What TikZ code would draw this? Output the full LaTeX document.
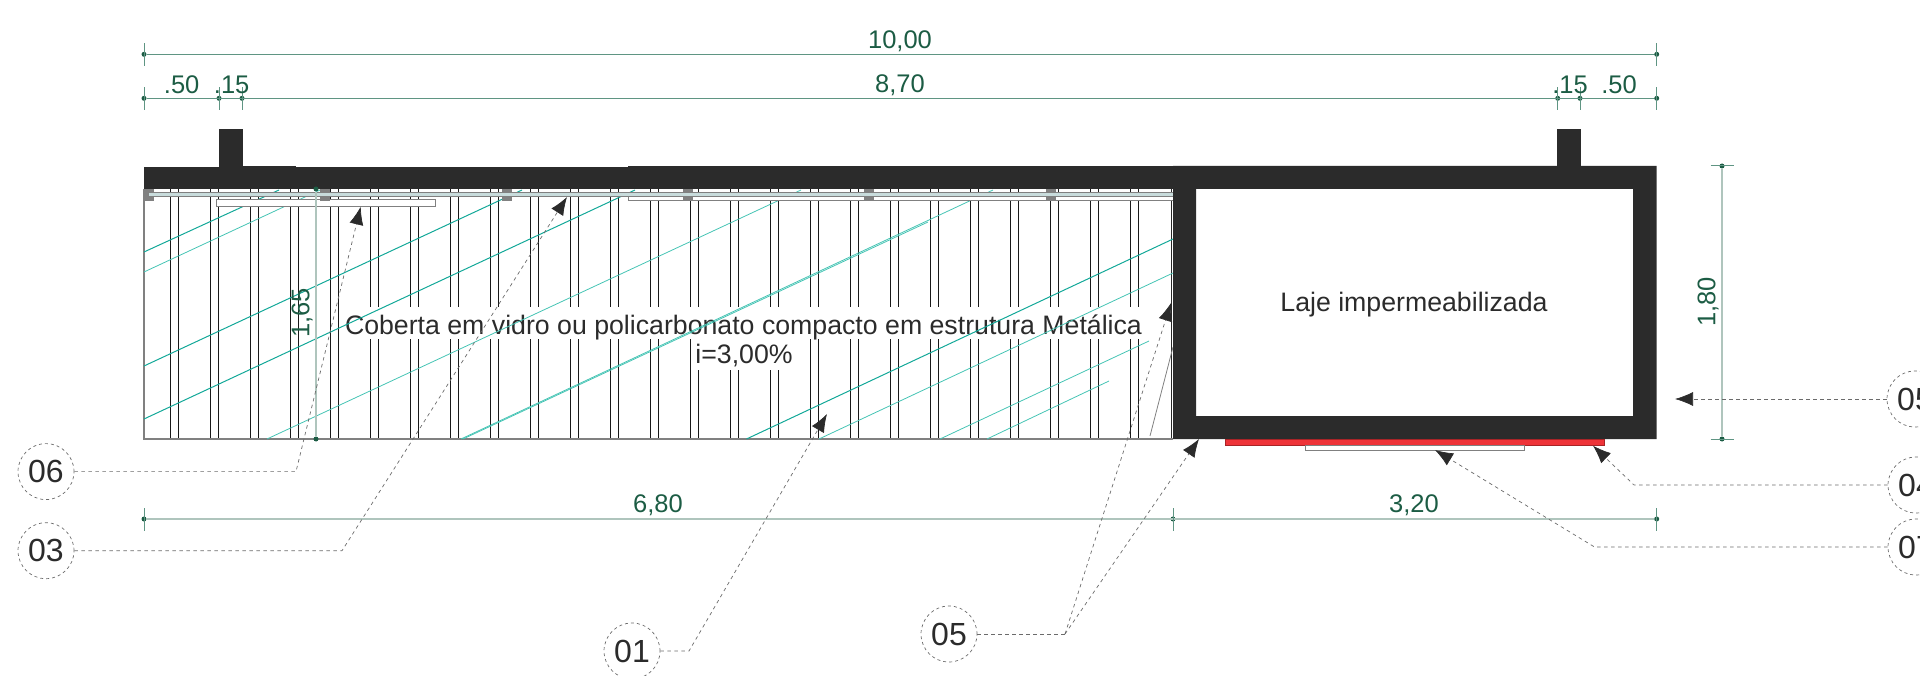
\documentclass[tikz,border=0pt]{standalone}
\usepackage{fontspec}
\setmainfont{Liberation Sans}
\usetikzlibrary{arrows.meta}
\usetikzlibrary{positioning}
\definecolor{wallgray}{HTML}{2B2B2B}
\definecolor{edgegray}{HTML}{808080}
\definecolor{dimtext}{HTML}{1C5C44}
\definecolor{dimthin}{HTML}{5F9583}
\definecolor{dimpale}{HTML}{AFC5BD}
\definecolor{glassblue}{HTML}{C8DCDC}
\definecolor{tealdark}{HTML}{12A898}
\definecolor{teallight}{HTML}{45C4B4}
\definecolor{sealred}{HTML}{EE3338}
\tikzset{
  dimdot/.style={circle,fill=dimtext,inner sep=0pt,minimum size=5pt},
  dimlabel/.style={text=dimtext,font=\fontsize{25.5}{25.5}\selectfont,inner sep=0pt},
  dimline/.style={draw=dimthin,line width=1.2pt},
  dimwide/.style={draw=dimpale,line width=2pt},
  tagnode/.style={circle,draw=wallgray!70,dash pattern=on 3pt off 3pt,line width=.7pt,minimum size=56pt,inner sep=0pt,
    font=\fontsize{32}{32}\selectfont,text=wallgray},
  leader/.style={draw=wallgray!70,dash pattern=on 3.5pt off 3.5pt,line width=.7pt,
    -{Latex[length=18pt,width=14pt,color=wallgray]}},
  leaderplain/.style={draw=wallgray!70,dash pattern=on 3.5pt off 3.5pt,line width=.7pt},
  notelabel/.style={font=\fontsize{26.7}{26.7}\selectfont,text=wallgray,fill=white,inner xsep=3pt,inner ysep=0pt},
  wall/.style={fill=wallgray},
  rafter/.style={draw=black!90,line width=1pt},
  hatchdark/.style={draw=tealdark,line width=1pt},
  hatchlight/.style={draw=teallight,line width=.8pt},
}
\begin{document}
\begin{tikzpicture}[x=1pt,y=-1pt]
   \useasboundingbox (0,0) rectangle (1920,676);

   \foreach \px in {170,210,...,1130} {
     \draw[rafter] (\px,189) -- (\px,439);
     \draw[rafter] (\px+8,189) -- (\px+8,439);
   }
   \draw[black!85,line width=.9pt] (1171,189) -- (1171,439);
   \draw[edgegray,line width=1.6pt] (144,189) -- (144,439) -- (1173,439);

   \node[notelabel,minimum height=32pt,minimum width=800pt] (note_a) at (745,323) {};
   \node[notelabel,minimum height=31pt,minimum width=102pt] (note_b) at (745,354.5) {};
   \node[notelabel,fill=none] (roof_a) at (743.5,327) {Coberta em vidro ou policarbonato compacto em estrutura Metálica};
   \node[notelabel,fill=none] (roof_b) at (744,356) {i=3,00\%};

   \draw[hatchdark] (144,252) -- (279,190);
   \draw[hatchlight] (144,272) -- (320,190);
   \draw[hatchdark] (144,366) -- (522,190);
   \draw[hatchdark] (144,419) -- (635,190);
   \draw[hatchlight] (267,439) -- (801,190);
   \draw[hatchlight] (461,439) -- (993,190);
   \draw[hatchlight] (463,439) -- (928,222);
   \draw[hatchdark] (746.5,439) -- (1173,239);
   \draw[hatchlight] (819,439) -- (1173,273);
   \draw[hatchlight] (940,439) -- (1149,341);
   \draw[hatchlight] (987,439) -- (1109,381);
   \draw[edgegray,line width=.8pt] (1150,436) -- (1173,347);

   \draw[edgegray,fill=white,line width=1pt] (216,200) rectangle (435,207);
   \draw[edgegray,fill=white,line width=1pt] (628,197) rectangle (1173,200.5);
   \draw[edgegray,fill=glassblue,line width=1pt] (148,193) rectangle (1173,197);
   \foreach \px in {144,320,502,683,864,1046} {
     \fill[edgegray] (\px,189) rectangle (\px+10,193);
     \fill[edgegray] (\px,197) rectangle (\px+10,201);
   }
   \fill[edgegray] (144,193) rectangle (148,201);

   \fill[wall] (144,167) rectangle (1174,189);
   \fill[wallgray] (243,166) rectangle (296,168);
   \fill[wallgray] (628,166) rectangle (1174,168);
   \fill[wall] (219,129) rectangle (243,168);
   \fill[wall] (1557,129) rectangle (1581,167);
   \fill[wall,even odd rule] (1173,166) rectangle (1656.7,439) (1196,189) rectangle (1633,416);
   \fill[sealred,draw=sealred!70!black,line width=.8pt] (1225,439.5) rectangle (1604,445.7);
   \draw[edgegray,fill=white,line width=1pt] (1305.7,445.7) rectangle (1524.7,450);

   \node[font=\fontsize{26.7}{26.7}\selectfont,text=wallgray] (slab) at (1414,304.5) {Laje impermeabilizada};

   \node[dimdot] (top_l) at (144,54.3) {};
   \node[dimdot] (top_r) at (1656.7,54.3) {};
   \node[dimdot] (row_a) at (144,98.3) {};
   \node[dimdot] (row_b) at (219,98.3) {};
   \node[dimdot] (row_c) at (242,98.3) {};
   \node[dimdot] (row_d) at (1557.7,98.3) {};
   \node[dimdot] (row_e) at (1580,98.3) {};
   \node[dimdot] (row_f) at (1656.7,98.3) {};
   \node[dimdot] (low_a) at (144,519) {};
   \node[dimdot] (low_b) at (1173,519) {};
   \node[dimdot] (low_c) at (1656.7,519) {};
   \node[dimdot] (side_t) at (1722,166) {};
   \node[dimdot] (side_b) at (1722,439) {};
   \node[dimdot] (inner_t) at (316,189) {};
   \node[dimdot] (inner_b) at (316,439) {};

   \path[dimline]
    (top_l) edge (top_r)
    (row_a) edge (row_f);
   \path[dimwide]
    (low_a) edge (low_c)
    (side_t) edge (side_b)
    (inner_t) edge (inner_b);

   \foreach \tick in {top_l,top_r,row_a,row_b,row_c,row_d,row_e,row_f,low_a,low_b,low_c} {
     \draw[dimthin,line width=1pt] ([yshift=-11.5pt]\tick.center) -- ([yshift=11.5pt]\tick.center);
   }
   \foreach \tick in {side_t,side_b} {
     \draw[dimthin,line width=1pt] ([xshift=-11.5pt]\tick.center) -- ([xshift=11.5pt]\tick.center);
   }

   \node[dimlabel] (dim_all) at (900,41) {10,00};
   \node[dimlabel] (dim_mid) at (900,85) {8,70};
   \node[dimlabel] (dim_la) at (181.7,85) {.50};
   \node[dimlabel] (dim_lb) at (231.7,85) {.15};
   \node[dimlabel] (dim_ra) at (1570,85) {.15};
   \node[dimlabel] (dim_rb) at (1619,85) {.50};
   \node[dimlabel] (dim_left) at (658,505) {6,80};
   \node[dimlabel] (dim_right) at (1414,505) {3,20};
   \node[dimlabel,rotate=90] (dim_side) at (1708,302) {1,80};
   \node[dimlabel,rotate=90] (dim_inner) at (302,313) {1,65};

   \node[tagnode] (tag_06) at (46,471.6) {06};
   \node[tagnode] (tag_03) at (46,550.7) {03};
   \node[tagnode] (tag_01) at (632,651) {01};
   \node[tagnode] (tag_05a) at (949,634) {05};
   \node[tagnode] (tag_05b) at (1915,399) {05};
   \node[tagnode] (tag_04) at (1916,485) {04};
   \node[tagnode] (tag_07) at (1916,547) {07};

   \coordinate (knee_06) at (296,471.6);
   \coordinate (knee_03) at (342,550.7);
   \coordinate (knee_01) at (689,651);
   \coordinate (knee_05) at (1065,634);
   \coordinate (knee_04) at (1634,485);
   \coordinate (knee_07) at (1594.5,547);
   \coordinate (tip_06) at (360.7,206.7);
   \coordinate (tip_03) at (567,197);
   \coordinate (tip_01) at (827,414);
   \coordinate (tip_05a) at (1171,303);
   \coordinate (tip_05b) at (1199,439);
   \coordinate (tip_05c) at (1675,399);
   \coordinate (tip_04) at (1593,445.7);
   \coordinate (tip_07) at (1435,450);

   \draw[leader] (tag_06) -- (knee_06) -- (tip_06);
   \draw[leader] (tag_03) -- (knee_03) -- (tip_03);
   \draw[leader] (tag_01) -- (knee_01) -- (tip_01);
   \draw[leaderplain] (tag_05a) -- (knee_05);
   \draw[leader] (knee_05) -- (tip_05a);
   \draw[leader] (knee_05) -- (tip_05b);
   \draw[leader] (tag_05b) -- (tip_05c);
   \draw[leader] (tag_04) -- (knee_04) -- (tip_04);
   \draw[leader] (tag_07) -- (knee_07) -- (tip_07);
\end{tikzpicture}
\end{document}
